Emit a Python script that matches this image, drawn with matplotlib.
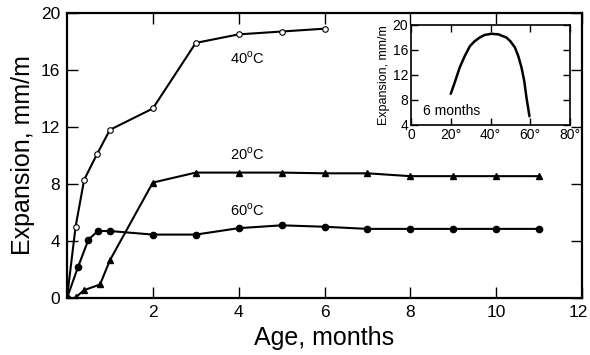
import matplotlib
matplotlib.use("Agg")
import matplotlib.pyplot as plt
import matplotlib.transforms as mtransforms

plt.rcParams['font.family'] = ['Liberation Sans', 'DejaVu Sans']
plt.rcParams['mathtext.fontset'] = 'custom'
plt.rcParams['mathtext.rm'] = 'Liberation Sans'

# Main chart data (age in months, expansion in mm/m)
age_40 = [0, 0.2, 0.4, 0.7, 1, 2, 3, 4, 5, 6]
exp_40 = [0, 5.0, 8.3, 10.1, 11.8, 13.3, 17.9, 18.5, 18.7, 18.9]

age_20 = [0.2, 0.4, 0.77, 1, 2, 3, 4, 5, 6, 7, 8, 9, 10, 11]
exp_20 = [0.05, 0.55, 0.95, 2.65, 8.1, 8.8, 8.8, 8.8, 8.75, 8.75, 8.55, 8.55, 8.55, 8.55]

age_60 = [0, 0.26, 0.5, 0.72, 1, 2, 3, 4, 5, 6, 7, 8, 9, 10, 11]
exp_60 = [0, 2.2, 4.1, 4.7, 4.7, 4.45, 4.45, 4.9, 5.1, 5.0, 4.85, 4.85, 4.85, 4.85, 4.85]

x_ticks = [2, 4, 6, 8, 10, 12]
y_ticks = [0, 4, 8, 12, 16, 20]

# Inset data (temperature, expansion at 6 months)
temp_in = [20, 22, 24.5, 27, 29.6, 32, 34.6, 37, 40.5, 44, 48, 50, 52.3, 54, 55.6, 57, 58.1, 59.6]
exp_in = [9.0, 10.8, 13.2, 15.0, 16.6, 17.4, 18.0, 18.4, 18.6, 18.5, 18.0, 17.4, 16.4, 15.0, 13.2, 11.0, 8.4, 5.4]
inset_x_ticks = [0, 20, 40, 60, 80]
inset_x_labels = ['0', '20°', '40°', '60°', '80°']
inset_y_ticks = [4, 8, 12, 16, 20]

fig = plt.figure(figsize=(5.9, 3.55), dpi=100)
ax = fig.add_axes([67/590, 1-298/355, (582-67)/590, (298-13)/355])

lw = 1.5
ax.plot(age_40, exp_40, color='black', lw=lw, marker='o', ms=4,
        mfc='white', mec='black', mew=0.8)
ax.plot(age_20, exp_20, color='black', lw=lw, marker='^', ms=4,
        mfc='black', mec='black')
ax.plot(age_60, exp_60, color='black', lw=lw, marker='o', ms=4.5,
        mfc='black', mec='black')

lab_kw = dict(fontsize=10.5, ha='center', va='center')
ax.text(4.2, 16.8, r'40$^{\mathrm{o}}$C', **lab_kw)
ax.text(4.2, 10.1, r'20$^{\mathrm{o}}$C', **lab_kw)
ax.text(4.2, 6.15, r'60$^{\mathrm{o}}$C', **lab_kw)

ax.set_xlim(0, 12)
ax.set_ylim(0, 20)
ax.set_xticks(x_ticks)
ax.set_yticks(y_ticks)
ax.tick_params(direction='in', length=8, width=1.0, top=True, right=True,
               labelsize=12.5, pad=5)
for s in ax.spines.values():
    s.set_linewidth(1.6)
ax.set_xlabel('Age, months', fontsize=18, labelpad=4)
ax.set_ylabel('Expansion, mm/m', fontsize=18, labelpad=4)

# nudge the last x tick label so it stays inside the figure
last = ax.get_xticklabels()[-1]
last.set_transform(last.get_transform() +
                   mtransforms.ScaledTranslation(-4/100, 0, fig.dpi_scale_trans))

# Inset
axi = fig.add_axes([411/590, 1-125/355, (570-411)/590, (125-25)/355])
axi.plot(temp_in, exp_in, color='black', lw=1.8, solid_capstyle='round')
axi.set_xlim(0, 80)
axi.set_ylim(4, 20)
axi.set_xticks(inset_x_ticks)
axi.set_xticklabels(inset_x_labels)
axi.set_yticks(inset_y_ticks)
axi.tick_params(direction='in', length=5, width=1.0, top=True, right=True,
                labelsize=10, pad=2)
for s in axi.spines.values():
    s.set_linewidth(1.2)
axi.set_ylabel('Expansion, mm/m', fontsize=9, labelpad=2)
axi.text(20.5, 6.2, '6 months', fontsize=10, ha='center', va='center')

fig.savefig('out.png', dpi=100)
